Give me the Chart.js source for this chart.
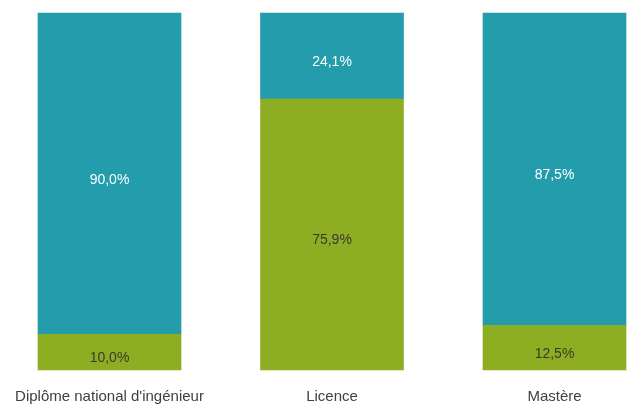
<!DOCTYPE html>
<html>
<head>
<meta charset="utf-8">
<script src="https://cdn.jsdelivr.net/npm/chart.js@4.4.0/dist/chart.umd.min.js"></script>
<style>
  html, body { margin: 0; padding: 0; background: #fff; }
  #wrap { width: 630px; height: 407px; }
</style>
</head>
<body>
<div id="wrap"><canvas id="myChart"></canvas></div>
<script>
// data
const diplomes = ["Diplôme national d'ingénieur", "Licence", "Mastère"];
const part_verte = [10.0, 75.9, 12.5];
const part_bleue = [90.0, 24.1, 87.5];

// colours
const vert = 'rgb(141, 174, 34)';
const bleu = 'rgb(35, 156, 172)';

// draws the value in the middle of each segment
const valueLabels = {
    id: 'valueLabels',
    afterDatasetsDraw(chart) {
        const ctx = chart.ctx;
        ctx.save();
        ctx.font = '14px "Liberation Sans", Arial, sans-serif';
        ctx.textAlign = 'center';
        ctx.textBaseline = 'middle';
        chart.data.datasets.forEach((ds, i) => {
            const meta = chart.getDatasetMeta(i);
            meta.data.forEach((bar, j) => {
                const v = ds.data[j];
                const y = (bar.y + bar.base) / 2 + 6;
                ctx.fillStyle = ds.labelColor;
                ctx.fillText(v.toFixed(1).replace('.', ',') + '%', bar.x, y);
            });
        });
        ctx.restore();
    }
};

const ctx = document.getElementById('myChart');
const myChart = new Chart(ctx, {
    type: 'bar',
    data: {
        labels: diplomes,
        datasets: [
            {
                label: 'vert',
                data: part_verte,
                backgroundColor: vert,
                labelColor: '#3a3a2a',
                clip: false
            },
            {
                label: 'bleu',
                data: part_bleue,
                backgroundColor: bleu,
                labelColor: '#ffffff',
                clip: false
            }
        ]
    },
    options: {
        responsive: true,
        maintainAspectRatio: false,
        animation: false,
        datasets: {
            bar: {
                barThickness: 143,
                borderWidth: 0
            }
        },
        layout: {
            padding: { left: 109.5, right: 75.5, top: 13, bottom: 0 }
        },
        plugins: {
            legend: { display: false },
            tooltip: { enabled: false }
        },
        scales: {
            x: {
                stacked: true,
                offset: false,
                grid: { display: false, drawTicks: false },
                border: { display: false },
                afterFit(scale) {
                    scale.height = 37;
                    scale.paddingLeft = 0;
                    scale.paddingRight = 0;
                },
                ticks: {
                    color: '#404040',
                    padding: 18,
                    maxRotation: 0,
                    autoSkip: false,
                    font: { family: '"Liberation Sans", Arial, sans-serif', size: 15 }
                }
            },
            y: {
                stacked: true,
                display: false,
                min: 0,
                max: 100
            }
        }
    },
    plugins: [valueLabels]
});
</script>
</body>
</html>
